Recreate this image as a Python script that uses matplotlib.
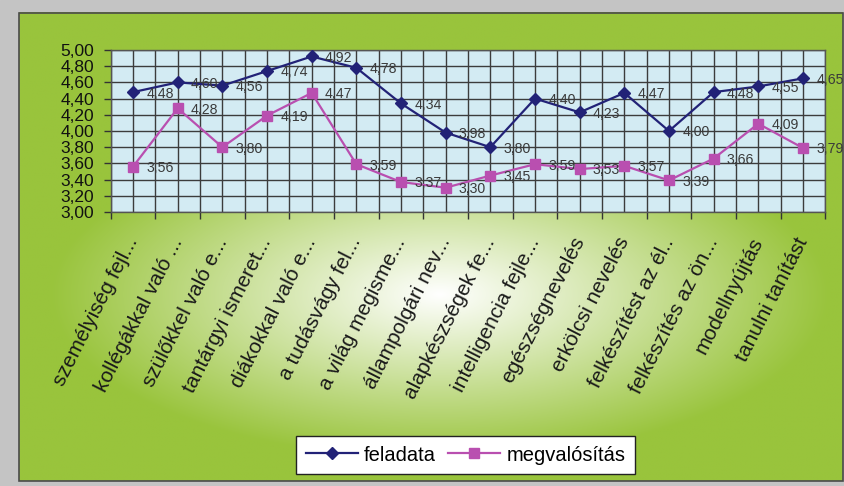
import numpy as np
import matplotlib
matplotlib.use("Agg")
import matplotlib.pyplot as plt
from matplotlib.patches import Rectangle

# Data
categories = [
    "személyiség fejl...", "kollégákkal való ...", "szülőkkel való e...",
    "tantárgyi ismeret...", "diákokkal való e...", "a tudásvágy fel...",
    "a világ megisme...", "állampolgári nev...", "alapkészségek fe...",
    "intelligencia fejle...", "egészségnevelés", "erkölcsi nevelés",
    "felkészítést az él..", "felkészítés az ön...", "modellnyújtás",
    "tanulni tanítást",
]
feladata = [4.48, 4.60, 4.56, 4.74, 4.92, 4.78, 4.34, 3.98, 3.80, 4.40,
            4.23, 4.47, 4.00, 4.48, 4.55, 4.65]
megvalositas = [3.56, 4.28, 3.80, 4.19, 4.47, 3.59, 3.37, 3.30, 3.45, 3.59,
                3.53, 3.57, 3.39, 3.66, 4.09, 3.79]
series_names = ["feladata", "megvalósítás"]
y_ticks = [3.0, 3.2, 3.4, 3.6, 3.8, 4.0, 4.2, 4.4, 4.6, 4.8, 5.0]

NAVY = "#222277"
MAGENTA = "#b94fb0"
GREEN = np.array([153, 196, 60]) / 255.0

plt.rcParams["font.family"] = ["Liberation Sans", "DejaVu Sans"]

W, H = 845, 486
fig = plt.figure(figsize=(W / 100, H / 100), dpi=100)

# Background: gray frame with a green panel that brightens toward the middle
bg = fig.add_axes([0, 0, 1, 1], zorder=0)
bg.add_patch(Rectangle((0, 0), W, H, color="#c4c4c4", zorder=0))
px0, px1, py0, py1 = 19, 843, 13, 481
gx = np.linspace(px0, px1, 420)
gy = np.linspace(py0, py1, 240)
GX, GY = np.meshgrid(gx, gy)
t = np.sqrt(((GX - 440) / 390) ** 2 + ((GY - 295) / 165) ** 2)
t = np.clip(t, 0, 1)[..., None]
img = (1 - t) * np.ones(3) + t * GREEN
bg.imshow(img, extent=(px0, px1, py1, py0), aspect="auto",
          interpolation="bilinear", origin="upper", zorder=1)
bg.add_patch(Rectangle((px0, py0), px1 - px0, py1 - py0, fill=False,
                       edgecolor="#4a4a4a", lw=1.2, zorder=2))
bg.set_xlim(0, W)
bg.set_ylim(H, 0)
bg.axis("off")

# Plot area
left, right, top, bottom = 110.7, 825.3, 50, 212
ax = fig.add_axes([left / W, 1 - bottom / H, (right - left) / W, (bottom - top) / H],
                  zorder=1)
ax.set_facecolor("#d3ebf3")

x = np.arange(len(categories))
l1, = ax.plot(x, feladata, color=NAVY, lw=1.6, marker="D", ms=6,
              mfc=NAVY, mec=NAVY, zorder=3, clip_on=False)
l2, = ax.plot(x, megvalositas, color=MAGENTA, lw=1.6, marker="s", ms=7.2,
              mfc=MAGENTA, mec=MAGENTA, zorder=3, clip_on=False)

for vals in (feladata, megvalositas):
    for xi, v in zip(x, vals):
        ax.annotate(f"{v:.2f}".replace(".", ","), (xi, v), xytext=(9.5, -1),
                    textcoords="offset points", ha="left", va="center",
                    fontsize=10.2, color="#3a3a3a", zorder=4,
                    annotation_clip=False)

ax.set_xlim(-0.5, len(categories) - 0.5)
ax.set_ylim(3.0, 5.0)
ax.set_yticks(y_ticks)
ax.set_yticklabels([f"{v:.2f}".replace(".", ",") for v in y_ticks], fontsize=12.5)

ax.set_xticks(x)
ax.set_xticklabels(categories, rotation=63, ha="right", va="center",
                   rotation_mode="anchor", fontsize=15, color="#1a1a1a")
ax.set_xticks(np.arange(-0.5, len(categories), 1.0), minor=True)

ax.grid(which="both", axis="x", color="#3c3c3c", lw=1.0)
ax.grid(which="major", axis="y", color="#3c3c3c", lw=1.0)
ax.set_axisbelow(True)

ax.tick_params(axis="x", which="major", length=0, pad=19)
ax.tick_params(axis="x", which="minor", length=5, direction="out",
               color="#333333", width=1)
ax.tick_params(axis="y", length=5, direction="out", color="#333333",
               width=1, pad=7, labelcolor="#111111")
for sp in ax.spines.values():
    sp.set_color("#555555")
    sp.set_linewidth(1.0)

leg = fig.legend([l1, l2], series_names, loc="center",
                 bbox_to_anchor=(465.5 / W, 1 - 455 / H), ncol=2,
                 frameon=True, fancybox=False, edgecolor="#222222",
                 facecolor="white", framealpha=1, fontsize=14.5,
                 handlelength=2.6, handletextpad=0.3, columnspacing=0.6,
                 borderpad=0.45)
leg.get_frame().set_linewidth(1.0)

fig.savefig("out.png", dpi=100)
